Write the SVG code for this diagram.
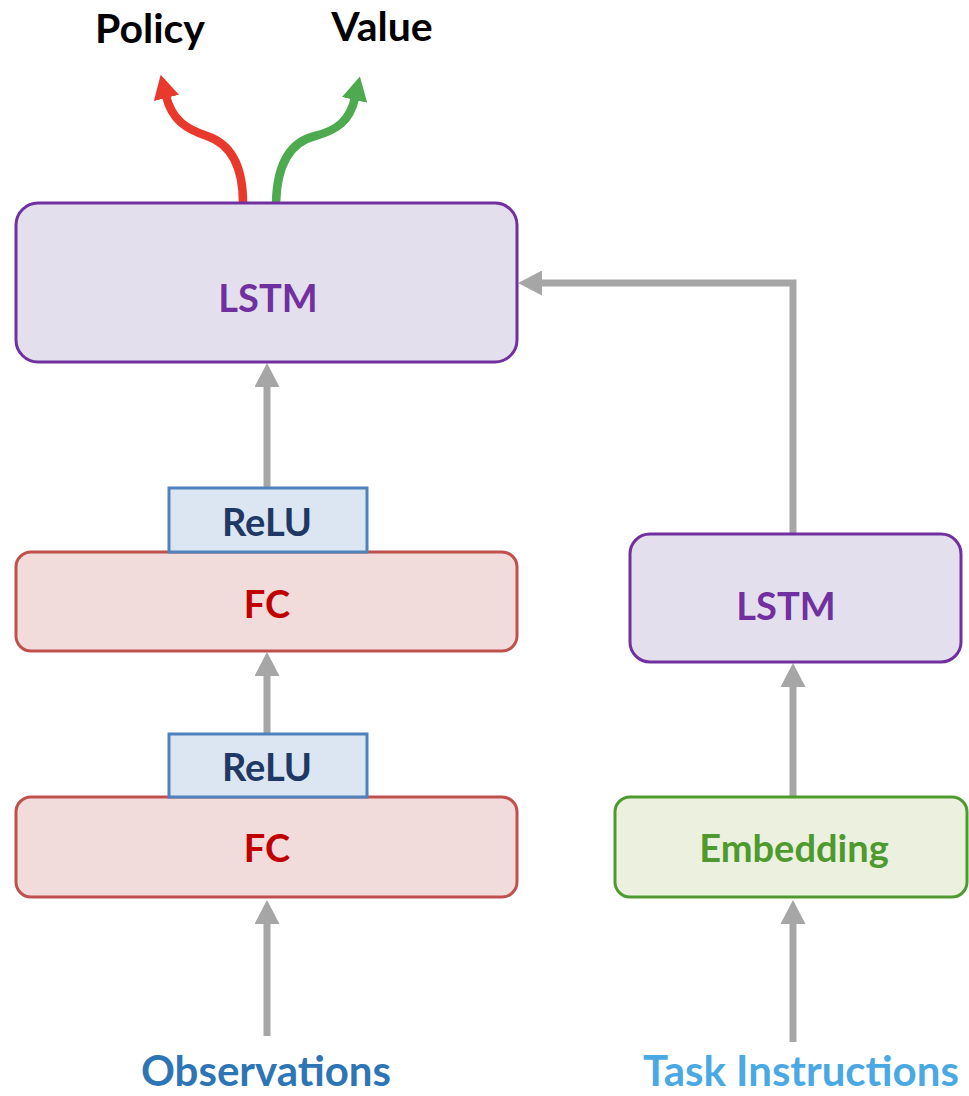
<svg xmlns="http://www.w3.org/2000/svg" width="969" height="1096" viewBox="0 0 969 1096">
  <style>
    text { font-family: Lato, "Open Sans", "Liberation Sans", sans-serif; font-weight: bold; text-anchor: middle; }
    .lbl { font-size: 38px; }
    .big { font-size: 41px; }
    .io { font-size: 42px; }
    .lstm rect { fill: #E4DFEC; stroke: #7030A0; stroke-width: 3; }
    .lstm text { fill: #7030A0; }
    .fc rect { fill: #F2DCDB; stroke: #C0504D; stroke-width: 3; }
    .fc text { fill: #C00000; }
    .relu rect { fill: #DCE6F2; stroke: #4F81BD; stroke-width: 3; }
    .relu text { fill: #1F3864; }
    .emb rect { fill: #EBF1DE; stroke: #4E9A2E; stroke-width: 3; }
    .emb text { fill: #4E9A2E; }
    .flow { fill: none; stroke: #A6A6A6; stroke-width: 7; }
    .head { fill: none; stroke-width: 8.5; stroke-linecap: butt; }
  </style>
  <defs>
    <marker id="arrow-gray" viewBox="0 -12.5 24 25" refX="2" refY="0" markerUnits="userSpaceOnUse" markerWidth="24" markerHeight="25" orient="auto">
      <path d="M0,-12.5 L24,0 L0,12.5 z" fill="#A6A6A6"/>
    </marker>
    <marker id="arrow-red" viewBox="0 -13 24 26" refX="2" refY="0" markerUnits="userSpaceOnUse" markerWidth="24" markerHeight="26" orient="auto">
      <path d="M0,-13 L24,0 L0,13 z" fill="#E8392C"/>
    </marker>
    <marker id="arrow-green" viewBox="0 -13 24 26" refX="2" refY="0" markerUnits="userSpaceOnUse" markerWidth="24" markerHeight="26" orient="auto">
      <path d="M0,-13 L24,0 L0,13 z" fill="#4DAA4F"/>
    </marker>
  </defs>

  <!-- output labels -->
  <text class="big" x="150" y="43" fill="#000">Policy</text>
  <text class="big" x="382" y="41" fill="#000">Value</text>

  <!-- connectors -->
  <g id="connectors">
    <path class="head" stroke="#E8392C" marker-end="url(#arrow-red)" d="M243,203 C243,162 228,143 207,136 C186,129 172,120 166,96"/>
    <path class="head" stroke="#4DAA4F" marker-end="url(#arrow-green)" d="M276,203 C277,165 290,142 315,136 C338,130 350,120 355,98"/>
    <path class="flow" marker-end="url(#arrow-gray)" d="M267,488 L267,385"/>
    <path class="flow" marker-end="url(#arrow-gray)" d="M267,734 L267,674"/>
    <path class="flow" marker-end="url(#arrow-gray)" d="M267,1036 L267,922"/>
    <path class="flow" marker-end="url(#arrow-gray)" d="M793,535 L793,283 L540,283"/>
    <path class="flow" marker-end="url(#arrow-gray)" d="M793,797 L793,685"/>
    <path class="flow" marker-end="url(#arrow-gray)" d="M793,1042 L793,922"/>
  </g>

  <!-- main recurrent core -->
  <g id="lstm-core" class="lstm">
    <rect x="16" y="203" width="501" height="159" rx="22"/>
    <text class="lbl" x="268" y="312">LSTM</text>
  </g>

  <!-- observation encoder -->
  <g id="fc-upper" class="fc">
    <rect x="16" y="552" width="501" height="99" rx="15"/>
    <text class="lbl" x="267" y="618">FC</text>
  </g>
  <g id="relu-upper" class="relu">
    <rect x="169" y="488" width="198" height="64"/>
    <text class="lbl" x="267" y="536">ReLU</text>
  </g>
  <g id="fc-lower" class="fc">
    <rect x="16" y="797" width="501" height="100" rx="15"/>
    <text class="lbl" x="267" y="862">FC</text>
  </g>
  <g id="relu-lower" class="relu">
    <rect x="169" y="734" width="198" height="63"/>
    <text class="lbl" x="267" y="781">ReLU</text>
  </g>

  <!-- instruction encoder -->
  <g id="lstm-instr" class="lstm">
    <rect x="630" y="534" width="331" height="128" rx="20"/>
    <text class="lbl" x="786" y="620">LSTM</text>
  </g>
  <g id="embedding" class="emb">
    <rect x="615" y="797" width="352" height="100" rx="15"/>
    <text class="lbl" x="794" y="862">Embedding</text>
  </g>

  <!-- inputs -->
  <text class="io" x="266" y="1086" fill="#2E75B6">Observations</text>
  <text class="io" x="801" y="1086" fill="#4AA9E2">Task Instructions</text>
</svg>
